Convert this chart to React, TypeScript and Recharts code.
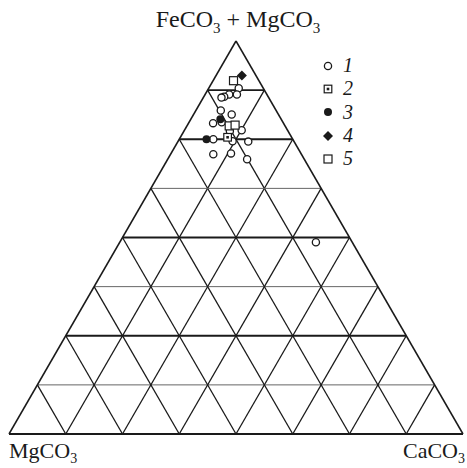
import { ScatterChart, Scatter, XAxis, YAxis, ReferenceLine } from 'recharts'

// Ternary: apex = FeCO3 + MgCO3, left = MgCO3, right = CaCO3.
// Each point is [FeCO3+MgCO3 %, CaCO3 %].
const group1 = [
  [88.0, 6.6], [86.4, 7.0], [86.4, 5.3], [85.8, 4.5], [85.6, 4.0],
  [82.3, 5.5], [81.3, 8.4], [79.1, 5.4], [79.3, 7.2], [77.1, 10.1],
  [77.3, 12.6], [75.0, 7.5], [74.5, 12.0], [74.4, 15.5], [71.2, 9.4],
  [71.4, 13.2], [69.9, 17.5], [48.8, 43.2],
]
const group2 = [[75.5, 10.4]]
const group3 = [[80.1, 6.5], [75.0, 6.0]]
const group4 = [[91.2, 5.7]]
const group5 = [[89.9, 4.5], [78.4, 9.3], [78.6, 10.5]]

const legendLabels = ['1', '2', '3', '4', '5']

const H = Math.sqrt(3) / 2
const DIVS = 8
const INK = '#1a1a1a'

const toXY = (pts: number[][]) => pts.map(([t, r]) => ({ x: r / 100 + t / 200, y: (t / 100) * H }))

// ── Markers ───────────────────────────────────────────────────────────────────

function Marker({ kind, cx, cy }: { kind: number; cx: number; cy: number }) {
  if (kind === 1) return <circle cx={cx} cy={cy} r={3.6} fill="#fff" stroke={INK} strokeWidth={1.3} />
  if (kind === 2)
    return (
      <g>
        <rect x={cx - 3.8} y={cy - 3.8} width={7.6} height={7.6} fill="#fff" stroke={INK} strokeWidth={1.2} />
        <rect x={cx - 1.3} y={cy - 1.3} width={2.6} height={2.6} fill={INK} />
      </g>
    )
  if (kind === 3) return <circle cx={cx} cy={cy} r={4} fill={INK} />
  if (kind === 4) return <path d={`M${cx},${cy - 5} L${cx + 5},${cy} L${cx},${cy + 5} L${cx - 5},${cy} Z`} fill={INK} />
  return <rect x={cx - 4} y={cy - 4} width={8} height={8} fill="#fff" stroke={INK} strokeWidth={1.2} />
}

const shapeFor = (kind: number) => (p: any) => <Marker kind={kind} cx={p.cx} cy={p.cy} />

// ── Grid segments ─────────────────────────────────────────────────────────────

type Seg = { a: { x: number; y: number }; b: { x: number; y: number }; w: number; c: string }

function gridSegments(): Seg[] {
  const segs: Seg[] = []
  for (let k = 1; k < DIVS; k++) {
    const f = k / DIVS
    const bold = k % 2 === 0 || k === 7
    // horizontal (constant apex component)
    segs.push({ a: { x: f / 2, y: f * H }, b: { x: 1 - f / 2, y: f * H }, w: bold ? 1.8 : 1, c: bold ? INK : '#666' })
    // constant CaCO3
    segs.push({ a: { x: f, y: 0 }, b: { x: f + (1 - f) / 2, y: (1 - f) * H }, w: 1.3, c: INK })
    // constant MgCO3
    segs.push({ a: { x: 1 - f, y: 0 }, b: { x: (1 - f) / 2, y: (1 - f) * H }, w: 1.3, c: INK })
  }
  segs.push({ a: { x: 0, y: 0 }, b: { x: 1, y: 0 }, w: 1.8, c: INK })
  segs.push({ a: { x: 0, y: 0 }, b: { x: 0.5, y: H }, w: 1.5, c: INK })
  segs.push({ a: { x: 1, y: 0 }, b: { x: 0.5, y: H }, w: 1.5, c: INK })
  return segs
}

function LegendBox() {
  return (
    <div
      style={{
        position: 'absolute',
        left: 321,
        top: 54,
        fontFamily: '"Liberation Serif", serif',
        fontStyle: 'italic',
        fontSize: 20,
        color: INK,
      }}
    >
      {legendLabels.map((lab, i) => (
        <div key={lab} style={{ display: 'flex', alignItems: 'center', height: 23.3 }}>
          <svg width={14} height={14} style={{ marginRight: 8 }}>
            <Marker kind={i + 1} cx={7} cy={7} />
          </svg>
          <span>{lab}</span>
        </div>
      ))}
    </div>
  )
}

const labelStyle = { position: 'absolute' as const, fontFamily: '"Liberation Serif", serif', color: INK, whiteSpace: 'nowrap' as const }

export default function App() {
  return (
    <div style={{ position: 'absolute', left: 0, top: 0, width: 467, height: 468, background: '#fff' }}>
      <ScatterChart width={467} height={468} margin={{ left: 9, right: 4, top: 41, bottom: 34 }}>
        <XAxis type="number" dataKey="x" domain={[0, 1]} allowDataOverflow hide />
        <YAxis type="number" dataKey="y" domain={[0, H]} allowDataOverflow hide />
        {gridSegments().map((s, i) => (
          <ReferenceLine key={i} segment={[s.a, s.b]} stroke={s.c} strokeWidth={s.w} ifOverflow="visible" />
        ))}
        <Scatter data={toXY(group1)} shape={shapeFor(1)} isAnimationActive={false} />
        <Scatter data={toXY(group2)} shape={shapeFor(2)} isAnimationActive={false} />
        <Scatter data={toXY(group3)} shape={shapeFor(3)} isAnimationActive={false} />
        <Scatter data={toXY(group5)} shape={shapeFor(5)} isAnimationActive={false} />
        <Scatter data={toXY(group4)} shape={shapeFor(4)} isAnimationActive={false} />
      </ScatterChart>
      <LegendBox />
      <div style={{ ...labelStyle, left: 0, width: 476, top: 6, textAlign: 'center', fontSize: 24 }}>
        FeCO<sub style={{ fontSize: 15 }}>3</sub> + MgCO<sub style={{ fontSize: 15 }}>3</sub>
      </div>
      <div style={{ ...labelStyle, left: 9, top: 438, fontSize: 22 }}>
        MgCO<sub style={{ fontSize: 14 }}>3</sub>
      </div>
      <div style={{ ...labelStyle, right: 2, top: 438, fontSize: 22 }}>
        CaCO<sub style={{ fontSize: 14 }}>3</sub>
      </div>
    </div>
  )
}
